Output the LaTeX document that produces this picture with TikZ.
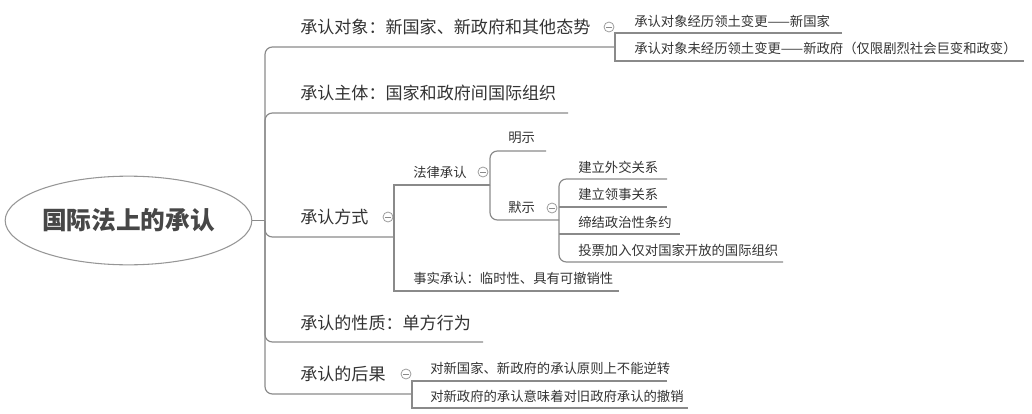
\documentclass[tikz,border=0pt]{standalone}
\usepackage{fontspec}
\setmainfont{Noto Sans CJK SC}
\usetikzlibrary{shapes.geometric}
\definecolor{linec}{HTML}{8A8A8A}
\definecolor{txt}{HTML}{333333}
\begin{document}
\begin{tikzpicture}[x=0.75pt,y=-0.75pt,
  line/.style={draw=linec, line width=0.9pt},
  rline/.style={line, rounded corners=5.5pt},
  lvA/.style={anchor=west, inner sep=0, text=txt, font=\fontsize{12.8pt}{15pt}\selectfont},
  lvB/.style={anchor=west, inner sep=0, text=txt, font=\fontsize{10pt}{12pt}\selectfont},
  fold/.style={circle, draw=linec!85, line width=0.6pt, minimum size=7.5pt, inner sep=0,
    path picture={\draw[linec, line width=0.6pt] ([xshift=-2pt]path picture bounding box.center) -- ([xshift=2pt]path picture bounding box.center);}},
]
\useasboundingbox (0,0) rectangle (1032,414);

% root
\node[ellipse, draw=linec!90, line width=0.8pt, minimum width=185pt, minimum height=66.5pt, inner sep=0,
  font=\fontsize{18.5pt}{21pt}\selectfont\bfseries, text=txt!90] (root) at (128.5,220.5) {国际法上的承认};
\coordinate (J0) at (265,220.5);
\draw[line] (root.east) -- (J0);

% level 1 nodes
\node[lvA] (a) at (300,27) {承认对象：新国家、新政府和其他态势};
\node[lvA] (b) at (300,93) {承认主体：国家和政府间国际组织};
\node[lvA] (c) at (300,217) {承认方式};
\node[lvA] (d) at (300,322.5) {承认的性质：单方行为};
\node[lvA] (e) at (300,373.5) {承认的后果};

\coordinate (aE) at (615,47);
\coordinate (bE) at (568,113);
\coordinate (cE) at (394,237);
\coordinate (dE) at (483,342);
\coordinate (eE) at (412,394);
\foreach \n in {a,b,c,d,e}{
  \draw[rline] (J0) -- (J0 |- \n E) -- (\n E);
}

% fold markers
\node[fold] (fa) at (609,27) {};
\node[fold] (fc) at (388,217) {};
\node[fold] (fc1) at (483,172) {};
\node[fold] (fc12) at (552,208) {};
\node[fold] (fe) at (406,374) {};

% children of a
\node[lvB] (a1) at (634,21) {承认对象经历领土变更——新国家};
\node[lvB] (a2) at (634,48.5) {承认对象未经历领土变更——新政府（仅限剧烈社会巨变和政变）};
\coordinate (a1E) at (842,33);
\coordinate (a2E) at (1024,61);
\draw[line] (a1E) -- (aE |- a1E) -- (aE |- a2E) -- (a2E);

% children of c
\node[lvB] (c1) at (413,172) {法律承认};
\node[lvB] (c2) at (413,278) {事实承认：临时性、具有可撤销性};
\coordinate (c1E) at (490,185);
\coordinate (c2E) at (619,291);
\draw[line] (c1E) -- (cE |- c1E) -- (cE |- c2E) -- (c2E);

% children of c1
\node[lvB] (c11) at (508,138) {明示};
\node[lvB] (c12) at (508,207.5) {默示};
\coordinate (c11E) at (546,151);
\coordinate (c12E) at (559,220);
\draw[rline] (c1E) -- (c1E |- c11E) -- (c11E);
\draw[rline] (c1E) -- (c1E |- c12E) -- (c12E);

% children of c12
\node[lvB] (m1) at (578,167) {建立外交关系};
\node[lvB] (m2) at (578,194) {建立领事关系};
\node[lvB] (m3) at (578,222) {缔结政治性条约};
\node[lvB] (m4) at (578,250) {投票加入仅对国家开放的国际组织};
\coordinate (m1E) at (667,179);
\coordinate (m2E) at (667,207);
\coordinate (m3E) at (680,234);
\coordinate (m4E) at (783,262);
\draw[rline] (c12E) -- (c12E |- m1E) -- (m1E);
\draw[rline] (c12E) -- (c12E |- m4E) -- (m4E);
\draw[line] (c12E |- m2E) -- (m2E);
\draw[line] (c12E |- m3E) -- (m3E);

% children of e
\node[lvB] (e1) at (430,368) {对新国家、新政府的承认原则上不能逆转};
\node[lvB] (e2) at (430,396) {对新政府的承认意味着对旧政府承认的撤销};
\coordinate (e1E) at (667,381);
\coordinate (e2E) at (688,408);
\draw[line] (e1E) -- (eE |- e1E) -- (eE |- e2E) -- (e2E);
\end{tikzpicture}
\end{document}
